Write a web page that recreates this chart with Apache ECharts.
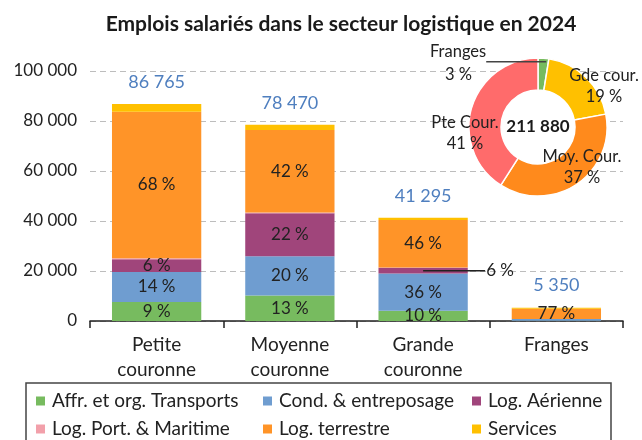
<!DOCTYPE html>
<html>
<head>
<meta charset="utf-8">
<script src="https://cdn.jsdelivr.net/npm/echarts@6/dist/echarts.min.js"></script>
<style>
  html, body { margin: 0; padding: 0; background: #fff; }
  #chart { width: 642px; height: 440px; }
</style>
</head>
<body>
<div id="chart"></div>
<script>
// zones
const categories = ['Petite\ncouronne', 'Moyenne\ncouronne', 'Grande\ncouronne', 'Franges']
const pieNames = ['Pte Cour.', 'Moy. Cour.', 'Gde cour.', 'Franges']

// emplois par secteur
const affr = [7600, 10200, 4130, 100]
const cond = [12000, 15700, 14870, 700]
const aerienne = [5100, 17250, 2300, 0]
const portMaritime = [400, 300, 100, 30]
const terrestre = [58600, 33000, 19000, 4120]
const services = [3065, 2020, 895, 400]

const yTicks = [0, 20000, 40000, 60000, 80000, 100000]

const seriesNames = ['Affr. et org. Transports', 'Cond. & entreposage', 'Log. Aérienne', 'Log. Port. & Maritime', 'Log. terrestre', 'Services']
const seriesData = [affr, cond, aerienne, portMaritime, terrestre, services]
const colors = ['#77bb5f', '#6f9dd0', '#a0457b', '#f2a0aa', '#ff9428', '#ffc000']
const pieColors = ['#ff6b6b', '#ff8a1c', '#ffc000', '#77bb5f']

const FONT = 'Lato'
const fmt = (n) => String(Math.round(n)).replace(/\B(?=(\d{3})+(?!\d))/g, ' ')

const totals = categories.map((c, i) => seriesData.reduce((s, arr) => s + arr[i], 0))
const grandTotal = totals.reduce((a, b) => a + b, 0)

// centre du donut
const PIE_CX = 538
const PIE_CY = 127
// position des etiquettes du donut (decalage depuis le centre)
const pieLabelOffsets = {
  'Pte Cour.': [-73, 6],
  'Moy. Cour.': [44, 40],
  'Gde cour.': [66, -41]
}
// Franges : etiquette calee a gauche, avec trait de rappel
const frangesOffset = [-108, -62.5]

// legende en 3 colonnes x 2 lignes
const legendCols = [36, 263, 472]
const legendRows = [391, 419]

const barSeries = seriesNames.map((name, k) => {
  const showPct = k < 3 || k === 4
  return {
    name,
    type: 'bar',
    stack: 'tot',
    barWidth: '67%',
    data: seriesData[k].map((v, i) => {
      const item = { value: v }
      // petit segment : etiquette sortie a droite avec un trait
      if (name === 'Log. Aérienne' && i === 2) {
        item.label = {
          show: true,
          position: ['50%', '50%'],
          align: 'left',
          verticalAlign: 'middle',
          formatter: () => '{ln|}{t|' + Math.round(v / totals[i] * 100) + ' %}',
          rich: {
            ln: { width: 62, height: 1.5, backgroundColor: '#222' },
            t: { fontFamily: FONT, fontSize: 17, color: '#222', padding: [0, 0, 0, 1] }
          }
        }
      }
      return item
    }),
    itemStyle: { color: colors[k] },
    label: {
      show: showPct,
      position: 'inside',
      fontFamily: FONT,
      fontSize: 17,
      color: '#222',
      formatter: (p) => {
        if (p.value < 2000) return ''
        return Math.round(p.value / totals[p.dataIndex] * 100) + ' %'
      }
    }
  }
})

// total au dessus de chaque barre
barSeries[5].label = {
  show: true,
  position: 'top',
  distance: 13,
  fontFamily: FONT,
  fontSize: 18,
  color: '#4f7fbf',
  formatter: (p) => fmt(totals[p.dataIndex])
}

const chart = echarts.init(document.getElementById('chart'))

// ordre de la legende : colonne par colonne
const legendOrder = [0, 3, 1, 4, 2, 5]
const legends = legendOrder.map((k, j) => ({
  left: legendCols[Math.floor(j / 2)],
  top: legendRows[j % 2],
  itemWidth: 9,
  itemHeight: 9,
  itemGap: 0,
  padding: 0,
  icon: 'rect',
  data: [seriesNames[k]],
  textStyle: { fontFamily: FONT, fontSize: 19, color: '#222', lineHeight: 20, padding: [0, 0, 0, 2] }
}))

const pct = (v) => Math.round(v / grandTotal * 100) + ' %'

const option = {
  animation: false,
  title: {
    text: 'Emplois salariés dans le secteur logistique en 2024',
    left: 336,
    textAlign: 'center',
    top: 9,
    textStyle: { fontFamily: FONT, fontSize: 21, fontWeight: 'bold', color: '#1a1a1a' }
  },
  grid: { left: 90, right: 19, top: 71, bottom: 119 },
  legend: legends,
  graphic: [
    {
      type: 'rect',
      shape: { x: 26, y: 383, width: 585, height: 70 },
      style: { fill: 'none', stroke: '#444', lineWidth: 1.5 },
      silent: true
    }
  ],
  xAxis: {
    type: 'category',
    data: categories,
    axisLine: { lineStyle: { color: '#222', width: 1.5 } },
    axisTick: { show: true, length: 7, lineStyle: { color: '#222', width: 1.5 } },
    axisLabel: { fontFamily: FONT, fontSize: 19, color: '#222', lineHeight: 25, margin: 11 }
  },
  yAxis: {
    type: 'value',
    min: yTicks[0],
    max: yTicks[yTicks.length - 1],
    interval: yTicks[1] - yTicks[0],
    axisLine: { show: false },
    axisTick: { show: false },
    axisLabel: { fontFamily: FONT, fontSize: 17, color: '#222', margin: 13, formatter: (v) => fmt(v) },
    splitLine: { lineStyle: { color: '#bdbdbd', type: [6, 4], width: 1.2 } }
  },
  series: [
    ...barSeries,
    {
      // disque blanc + total au centre
      type: 'pie',
      silent: true,
      center: [PIE_CX, PIE_CY],
      radius: [0, 37],
      z: 3,
      data: [{ value: grandTotal, name: 'Total' }],
      itemStyle: { color: '#fff' },
      label: {
        position: 'center',
        fontFamily: FONT,
        fontSize: 17,
        fontWeight: 'bold',
        color: '#1a1a1a',
        formatter: () => fmt(grandTotal)
      },
      labelLine: { show: false }
    },
    {
      type: 'pie',
      center: [PIE_CX, PIE_CY],
      radius: [37, 69],
      startAngle: 90,
      clockwise: true,
      z: 4,
      data: [
        {
          value: totals[3],
          name: pieNames[3],
          itemStyle: { color: pieColors[3] },
          label: {
            formatter: (p) => '{t|' + p.name + '}{ln|}\n{sp|}{p|' + pct(p.value) + '}',
            rich: {
              t: { fontFamily: FONT, fontSize: 16.5, color: '#222', lineHeight: 17 },
              ln: { width: 60, height: 1.5, backgroundColor: '#444', verticalAlign: 'bottom' },
              sp: { width: 15, height: 1 },
              p: { fontFamily: FONT, fontSize: 16.5, color: '#222', lineHeight: 25, width: 101, align: 'left' }
            }
          }
        },
        { value: totals[2], name: pieNames[2], itemStyle: { color: pieColors[2] } },
        { value: totals[1], name: pieNames[1], itemStyle: { color: pieColors[1] } },
        { value: totals[0], name: pieNames[0], itemStyle: { color: pieColors[0] } }
      ],
      itemStyle: { borderColor: '#fff', borderWidth: 1.5 },
      label: {
        position: 'inside',
        fontFamily: FONT,
        fontSize: 16.5,
        color: '#222',
        lineHeight: 21,
        align: 'center',
        formatter: (p) => p.name + '\n' + pct(p.value)
      },
      labelLine: { show: false },
      labelLayout: (p) => {
        if (p.text.indexOf(pieNames[3]) >= 0) {
          return { x: PIE_CX + frangesOffset[0], y: PIE_CY + frangesOffset[1], align: 'left', verticalAlign: 'middle' }
        }
        const off = pieLabelOffsets[p.text.split('\n')[0]]
        if (!off) return {}
        return { x: PIE_CX + off[0], y: PIE_CY + off[1], align: 'center', verticalAlign: 'middle' }
      }
    }
  ]
}

chart.setOption(option)
</script>
</body>
</html>
